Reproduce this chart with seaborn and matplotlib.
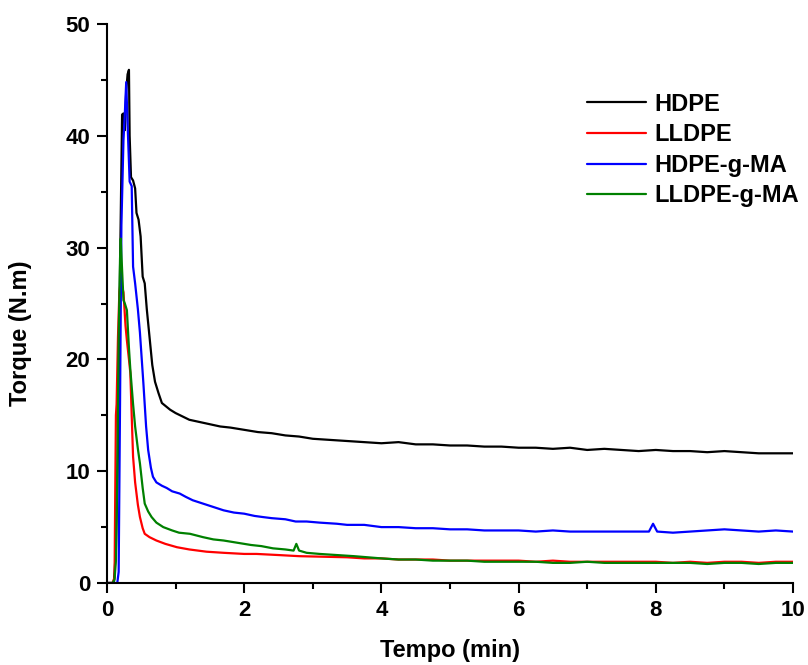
import numpy as np
import pandas as pd
import seaborn as sns
import matplotlib.pyplot as plt

# valores (Tempo em min, Torque em N.m)
tail_t = [4.25, 4.5, 4.75, 5.0, 5.25, 5.5, 5.75, 6.0, 6.25, 6.5, 6.75, 7.0,
          7.25, 7.5, 7.75, 8.0, 8.25, 8.5, 8.75, 9.0, 9.25, 9.5, 9.75, 10.0]

hdpe_t = [0, 0.10, 0.13, 0.16, 0.19, 0.22, 0.24, 0.26, 0.28, 0.30, 0.32, 0.33,
          0.35, 0.38, 0.41, 0.43, 0.46, 0.49, 0.52, 0.55, 0.58, 0.62, 0.66, 0.70,
          0.75, 0.80, 0.86, 0.92, 1.0, 1.1, 1.2, 1.35, 1.5, 1.65, 1.8, 2.0, 2.2,
          2.4, 2.6, 2.8, 3.0, 3.25, 3.5, 3.75, 4.0] + tail_t
hdpe_y = [0, 0, 3, 12, 28, 41.9, 42, 40.5, 44, 45.5, 45.9, 40,
          36.3, 36.0, 35.3, 33.1, 32.5, 31, 27.4, 26.8, 24.5, 22.0, 19.5, 18.0,
          17.0, 16.1, 15.8, 15.5, 15.2, 14.9, 14.6, 14.4, 14.2, 14.0, 13.9, 13.7, 13.5,
          13.4, 13.2, 13.1, 12.9, 12.8, 12.7, 12.6, 12.5,
          12.6, 12.4, 12.4, 12.3, 12.3, 12.2, 12.2, 12.1, 12.1, 12.0, 12.1, 11.9,
          12.0, 11.9, 11.8, 11.9, 11.8, 11.8, 11.7, 11.8, 11.7, 11.6, 11.6, 11.6]

lldpe_t = [0, 0.08, 0.11, 0.12, 0.13, 0.14, 0.16, 0.18, 0.20, 0.22, 0.24, 0.27,
           0.29, 0.32, 0.34, 0.36, 0.38, 0.41, 0.45, 0.48, 0.52, 0.55, 0.62, 0.72,
           0.85, 1.02, 1.2, 1.45, 1.7, 2.0, 2.18, 2.5, 2.8, 3.15, 3.5, 3.75, 4.0] + tail_t
lldpe_y = [0, 0, 0.5, 8, 15, 16, 22, 26, 27, 26.5, 26, 23,
           21.7, 20, 18.8, 15, 11.3, 9, 7, 5.9, 4.9, 4.4, 4.1, 3.8,
           3.5, 3.2, 3.0, 2.8, 2.7, 2.6, 2.6, 2.5, 2.4, 2.35, 2.3, 2.2, 2.2,
           2.1, 2.1, 2.1, 2.0, 2.0, 2.0, 2.0, 2.0, 1.9, 2.0, 1.9, 1.9,
           1.9, 1.9, 1.9, 1.9, 1.8, 1.9, 1.8, 1.9, 1.9, 1.8, 1.9, 1.9]

hdpema_t = [0, 0.15, 0.17, 0.19, 0.21, 0.24, 0.26, 0.28, 0.30, 0.33, 0.36, 0.38,
            0.41, 0.45, 0.48, 0.53, 0.57, 0.60, 0.64, 0.67, 0.72, 0.80, 0.87, 0.95,
            1.06, 1.15, 1.25, 1.4, 1.55, 1.7, 1.85, 2.0, 2.15, 2.27, 2.4, 2.6, 2.75,
            2.91, 3.1, 3.35, 3.5, 3.75, 4.0, 4.25, 4.5, 4.75, 5.0, 5.25, 5.5, 5.75,
            6.0, 6.25, 6.5, 6.75, 7.0, 7.25, 7.5, 7.75, 7.90, 7.96, 8.02, 8.25, 8.5,
            8.75, 9.0, 9.25, 9.5, 9.75, 10.0]
hdpema_y = [0, 0, 1, 16, 32, 39.6, 42, 44.8, 41.1, 35.9, 35.5, 28.3,
            26.8, 24.5, 22.4, 17.9, 14, 11.9, 10.3, 9.5, 9.0, 8.7, 8.5, 8.2,
            8.0, 7.7, 7.4, 7.1, 6.8, 6.5, 6.3, 6.2, 6.0, 5.9, 5.8, 5.7, 5.5,
            5.5, 5.4, 5.3, 5.2, 5.2, 5.0, 5.0, 4.9, 4.9, 4.8, 4.8, 4.7, 4.7,
            4.7, 4.6, 4.7, 4.6, 4.6, 4.6, 4.6, 4.6, 4.6, 5.3, 4.6, 4.5, 4.6,
            4.7, 4.8, 4.7, 4.6, 4.7, 4.6]

lldpema_t = [0, 0.08, 0.11, 0.13, 0.15, 0.17, 0.19, 0.20, 0.22, 0.24, 0.26, 0.29,
             0.32, 0.34, 0.38, 0.41, 0.45, 0.48, 0.52, 0.55, 0.60, 0.65, 0.72, 0.82,
             0.95, 1.05, 1.21, 1.4, 1.55, 1.7, 1.9, 2.1, 2.25, 2.42, 2.6, 2.72, 2.76,
             2.80, 2.91, 3.1, 3.35, 3.6, 3.8, 4.0] + tail_t
lldpema_y = [0, 0, 0.3, 2, 10, 22, 29, 30.8, 28, 25.3, 25, 24.4,
             21, 19.1, 16, 14.0, 12, 10.7, 8.5, 7.1, 6.4, 5.9, 5.4, 5.0,
             4.7, 4.5, 4.4, 4.1, 3.9, 3.8, 3.6, 3.4, 3.3, 3.1, 3.0, 2.9, 3.5,
             2.9, 2.7, 2.6, 2.5, 2.4, 2.3, 2.2,
             2.1, 2.1, 2.0, 2.0, 2.0, 1.9, 1.9, 1.9, 1.9, 1.8, 1.8, 1.9,
             1.8, 1.8, 1.8, 1.8, 1.8, 1.8, 1.7, 1.8, 1.8, 1.7, 1.8, 1.8]

series = ['HDPE', 'LLDPE', 'HDPE-g-MA', 'LLDPE-g-MA']
cores = ['#000000', '#ff0000', '#0000ff', '#008000']

frames = []
for nome, t, y in zip(series, [hdpe_t, lldpe_t, hdpema_t, lldpema_t],
                      [hdpe_y, lldpe_y, hdpema_y, lldpema_y]):
    frames.append(pd.DataFrame({'Tempo': t, 'Torque': y, 'amostra': nome}))
df = pd.concat(frames, ignore_index=True)

sns.set_style('ticks', {'axes.edgecolor': 'black', 'text.color': 'black',
                        'xtick.color': 'black', 'ytick.color': 'black',
                        'axes.labelcolor': 'black'})
plt.rcParams['font.family'] = ['Liberation Sans', 'DejaVu Sans']
plt.rcParams['font.weight'] = 'bold'

fig = plt.figure(figsize=(8.08, 6.65), dpi=100)
ax = fig.add_axes([107 / 808, 82 / 665, 686 / 808, 559 / 665])

sns.lineplot(data=df, x='Tempo', y='Torque', hue='amostra', hue_order=series,
             palette=cores, estimator=None, sort=False, linewidth=1.6, ax=ax)

ax.set_xlim(0, 10)
ax.set_ylim(0, 50)
ax.set_xticks([0, 2, 4, 6, 8, 10])
ax.set_xticks([1, 3, 5, 7, 9], minor=True)
ax.set_yticks([0, 10, 20, 30, 40, 50])
ax.set_yticks([5, 15, 25, 35, 45], minor=True)
ax.tick_params(which='major', direction='out', length=7.5, width=1.5,
               labelsize=16, pad=4.5, colors='black')
ax.tick_params(which='minor', direction='out', length=4, width=1.5)
for lab in ax.get_xticklabels() + ax.get_yticklabels():
    lab.set_fontweight('bold')

sns.despine(ax=ax)
ax.spines['left'].set_linewidth(1.5)
ax.spines['bottom'].set_linewidth(1.5)

ax.set_xlabel('Tempo (min)', fontsize=17, fontweight='bold')
ax.set_ylabel('Torque (N.m)', fontsize=17, fontweight='bold')
ax.xaxis.set_label_coords(0.5, -0.10)
ax.yaxis.set_label_coords(-0.11, 0.447)

handles, labels = ax.get_legend_handles_labels()
ax.legend(handles, labels, loc='upper left', bbox_to_anchor=(0.70, 0.877),
          frameon=False, borderaxespad=0, borderpad=0, handlelength=2.5,
          handletextpad=0.35, labelspacing=0.32,
          prop={'size': 17, 'weight': 'bold'})

fig.savefig('out.png', dpi=100)
